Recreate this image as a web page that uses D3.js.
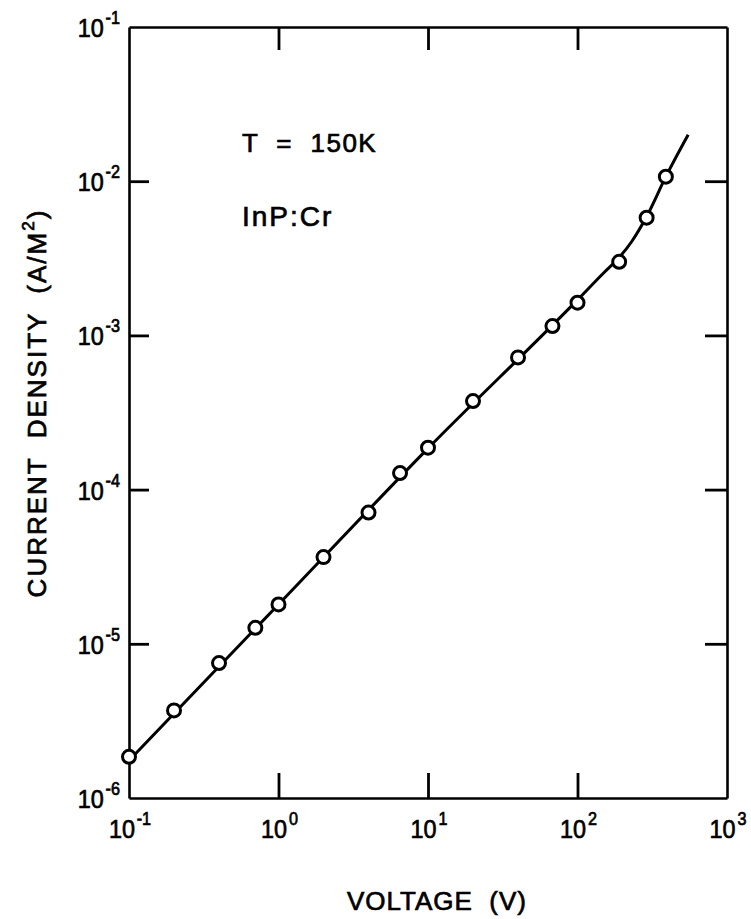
<!DOCTYPE html>
<html>
<head>
<meta charset="utf-8">
<script src="https://cdn.jsdelivr.net/npm/d3@7"></script>
<style>
  html, body { margin: 0; padding: 0; background: #fff; }
  svg { display: block; }
  text { font-family: "Liberation Sans", Arial, sans-serif; fill: #000; stroke: #000; stroke-width: 0.7px; }
</style>
</head>
<body>
<svg id="chart" width="751" height="919"></svg>
<script>
// Measured J–V points (open circles)
const voltage = [0.1, 0.2, 0.4, 0.7, 1, 2, 4, 6.5, 10, 20, 40, 68, 100, 190, 290, 390];
const currentDensity = [1.85e-6, 3.7e-6, 7.5e-6, 1.27e-5, 1.8e-5, 3.65e-5, 7.1e-5, 1.28e-4,
                        1.87e-4, 3.75e-4, 7.2e-4, 1.15e-3, 1.63e-3, 3.0e-3, 5.8e-3, 1.07e-2];

// Drawn curve: ohmic segment, then steeper rise at high voltage
const curveVoltage = [0.1, 1, 10, 100, 150, 190, 230, 290, 390, 550];
const curveCurrent = [1.75e-6, 1.8e-5, 1.85e-4, 1.7e-3, 2.55e-3, 3.2e-3, 4.05e-3, 5.9e-3, 1.07e-2, 2.0e-2];

// Decade exponents used for tick labels
const xLabelExps = [-1, 0, 1, 2, 3];
const yLabelExps = [-1, -2, -3, -4, -5, -6];
const xInnerTicks = [1, 10, 100];
const yInnerTicks = [1e-2, 1e-3, 1e-4, 1e-5];

const xTitle = "VOLTAGE  (V)";
const yTitleMain = "CURRENT  DENSITY  (A/M";
const yTitleSup = "2";
const noteTemp = "T  =  150K";
const noteSample = "InP:Cr";

const svg = d3.select("#chart");
const box = { left: 129, right: 727, top: 27, bottom: 798 };

const x = d3.scaleLog().domain([1e-1, 1e3]).range([box.left, box.right]);
const y = d3.scaleLog().domain([1e-6, 1e-1]).range([box.bottom, box.top]);

// Frame with inward ticks on all four sides
function styleAxis(g) {
  g.selectAll("path.domain").attr("stroke", "#000").attr("stroke-width", 2.6);
  g.selectAll(".tick line").attr("stroke", "#000").attr("stroke-width", 2.8);
  g.selectAll(".tick text").remove();
}
svg.append("g").attr("transform", `translate(0,${box.bottom})`)
  .call(d3.axisBottom(x).tickValues(xInnerTicks).tickSizeInner(-25).tickSizeOuter(0).tickFormat(""))
  .call(styleAxis);
svg.append("g").attr("transform", `translate(0,${box.top})`)
  .call(d3.axisTop(x).tickValues(xInnerTicks).tickSizeInner(-23).tickSizeOuter(0).tickFormat(""))
  .call(styleAxis);
svg.append("g").attr("transform", `translate(${box.left},0)`)
  .call(d3.axisLeft(y).tickValues(yInnerTicks).tickSizeInner(-20).tickSizeOuter(0).tickFormat(""))
  .call(styleAxis);
svg.append("g").attr("transform", `translate(${box.right},0)`)
  .call(d3.axisRight(y).tickValues(yInnerTicks).tickSizeInner(-22).tickSizeOuter(0).tickFormat(""))
  .call(styleAxis);

// Power-of-ten labels: "10" with a raised exponent
function powerLabel(parent, tx, ty, exp, anchor) {
  const g = parent.append("g").attr("transform", `translate(${tx},${ty}) scale(0.9,1)`);
  const t = g.append("text").attr("text-anchor", anchor).attr("font-size", 26);
  t.append("tspan").text("10");
  t.append("tspan").attr("font-size", 18).attr("dx", 2).attr("dy", -13).text(exp < 0 ? "-" + (-exp) : String(exp));
}
const labels = svg.append("g");
xLabelExps.forEach(e => powerLabel(labels, x(Math.pow(10, e)) + 1, 838, e, "middle"));
yLabelExps.forEach(e => powerLabel(labels, 120, y(Math.pow(10, e)) + 10, e, "end"));

// Axis titles
svg.append("text")
  .attr("x", 437).attr("y", 910)
  .attr("text-anchor", "middle")
  .attr("font-size", 26)
  .attr("letter-spacing", 1)
  .style("white-space", "pre")
  .text(xTitle);

const yt = svg.append("text")
  .attr("transform", "translate(46,403) rotate(-90)")
  .attr("text-anchor", "middle")
  .attr("font-size", 26)
  .attr("letter-spacing", 2)
  .style("white-space", "pre");
yt.append("tspan").text(yTitleMain);
yt.append("tspan").attr("font-size", 17).attr("dy", -12).text(yTitleSup);
yt.append("tspan").attr("dy", 12).text(")");

// Annotations
svg.append("text").attr("x", 242).attr("y", 152)
  .attr("font-size", 26).attr("letter-spacing", 1.5)
  .style("white-space", "pre").text(noteTemp);
svg.append("text").attr("x", 242).attr("y", 226)
  .attr("font-size", 28).attr("letter-spacing", 2)
  .text(noteSample);

// Curve
const line = d3.line()
  .x(d => x(d[0]))
  .y(d => y(d[1]))
  .curve(d3.curveMonotoneX);
svg.append("path")
  .datum(d3.zip(curveVoltage, curveCurrent))
  .attr("d", line)
  .attr("fill", "none")
  .attr("stroke", "#000")
  .attr("stroke-width", 3);

// Data points
svg.append("g").selectAll("circle")
  .data(d3.zip(voltage, currentDensity))
  .join("circle")
  .attr("cx", d => x(d[0]))
  .attr("cy", d => y(d[1]))
  .attr("r", 6.5)
  .attr("fill", "#fff")
  .attr("stroke", "#000")
  .attr("stroke-width", 3);
</script>
</body>
</html>
